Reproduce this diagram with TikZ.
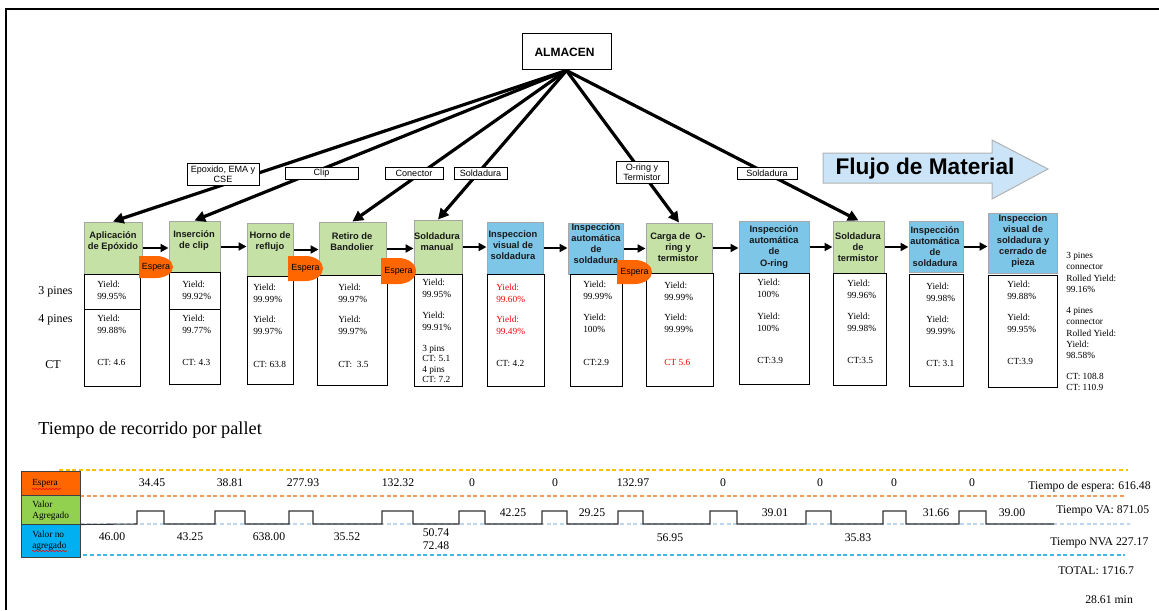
\documentclass[tikz,border=0pt]{standalone}
\usepackage{fontspec}
\setmainfont{Liberation Serif}
\setsansfont{Liberation Sans}
\usetikzlibrary{arrows.meta,fit,decorations.pathmorphing}
\definecolor{pgreen}{HTML}{C5E1A5}
\definecolor{pblue}{HTML}{7EC6E8}
\definecolor{espc}{HTML}{FF6600}
\definecolor{legG}{HTML}{92D050}
\definecolor{legB}{HTML}{00B0F0}
\definecolor{flowc}{HTML}{CCE4F7}
\definecolor{dyel}{HTML}{FFC000}
\definecolor{dora}{HTML}{F29A5C}
\definecolor{dpale}{HTML}{BDD7EE}
\definecolor{dcyan}{HTML}{3FB7E8}
\newcommand\mkbox[6]{\node[#6, fit={(#2,#3) (#4,#5)}, inner sep=0pt] (#1) {};}
\newcommand\mktxt[5][]{\node[dat,#1] (#2) at (#3,#4) {#5};}
\newcommand\mkhead[4]{\node[head] (#1) at (#2,#3) {#4};}
\newcommand\mklab[6]{\node[lab, fit={(#2,#3) (#4,#5)}, inner sep=0pt] (#1) {};
  \node[labtxt] (#1t) at (#1.center) {#6};}
\newcommand\mkesp[5]{%
  \fill[espc] (#2,#3) -- ({(#2+#4)/2},#3) arc[start angle=-90,end angle=90,x radius={(#4-#2)/2},y radius={(#5-#3)/2}] -- (#2,#5) -- cycle;
  \node[esptext] (#1) at ({(#2+#4)/2},{(#3+#5)/2}) {Espera};}
\newcommand\mknum[4]{\node[num] (#1) at (#2,#3) {#4};}
\begin{document}
\begin{tikzpicture}[x=0.75pt,y=-0.75pt,
  procg/.style={draw=black!35, fill=pgreen, line width=0.75pt},
  procb/.style={draw=black!35, fill=pblue, line width=0.75pt},
  dbox/.style={draw=black, line width=0.75pt},
  head/.style={font=\sffamily\bfseries\fontsize{7}{8.3}\selectfont, align=center, inner sep=0pt, text=black!90},
  dat/.style={font=\fontsize{7}{9}\selectfont, align=left, anchor=west, inner sep=0pt},
  side/.style={font=\fontsize{7}{8.3}\selectfont, align=left, anchor=west, inner sep=0pt},
  lab/.style={draw=black, fill=white, line width=0.6pt},
  labtxt/.style={font=\sffamily\fontsize{6.8}{7.6}\selectfont, align=center, inner sep=0pt},
  esptext/.style={font=\sffamily\fontsize{6.7}{8}\selectfont, inner sep=0pt},
  feed/.style={line width=2.4pt, -{Triangle[length=8pt,width=8pt]}},
  flowarr/.style={line width=1.5pt, -{Triangle[length=6pt,width=6pt]}},
  num/.style={font=\fontsize{8.8}{10}\selectfont, inner sep=0pt},
  tot/.style={font=\fontsize{8.8}{10}\selectfont, inner sep=0pt, anchor=west},
  legt/.style={font=\fontsize{7}{8.5}\selectfont, align=left, anchor=west, inner sep=0pt},
  dsh/.style={dash pattern=on 3pt off 2pt, line width=0.9pt}
]
\useasboundingbox (0,0) rectangle (1159,610);
\draw[line width=1.5pt] (6,610) -- (6,9) -- (1159,9);

% ALMACEN
\node[draw=black, fill=white, line width=0.75pt, fit={(522,34) (611,70)}, inner sep=0pt] (alm) {};
\node[font=\sffamily\bfseries\fontsize{9}{10}\selectfont, inner sep=0pt] (almt) at ([xshift=-1.5pt]alm.center) {ALMACEN};

% process boxes
\mkbox{p1}{84}{222}{142}{274}{procg}
\mkbox{p2}{169}{221}{220}{272}{procg}
\mkbox{p3}{247}{223}{293}{276}{procg}
\mkbox{p4}{319}{222}{386}{275}{procg}
\mkbox{p5}{414}{220}{462}{274}{procg}
\mkbox{p6}{487}{222}{543}{274}{procb}
\mkbox{p7}{568}{223}{623}{274}{procb}
\mkbox{p8}{646}{223}{712}{273}{procg}
\mkbox{p9}{739}{221}{809}{273}{procb}
\mkbox{p10}{833}{221}{884}{273}{procg}
\mkbox{p11}{909}{221}{963}{272}{procb}
\mkbox{p12}{988}{213}{1057}{273}{procb}

% data boxes
\mkbox{d1}{84}{274}{140}{386}{dbox}
\mkbox{d2}{169}{272}{220}{384}{dbox}
\mkbox{d3}{247}{276}{293}{384}{dbox}
\mkbox{d4}{317}{275}{387}{385}{dbox}
\mkbox{d5}{414}{274}{462}{386}{dbox}
\mkbox{d6}{487}{274}{544}{386}{dbox}
\mkbox{d7}{570}{274}{622}{386}{dbox}
\mkbox{d8}{646}{273}{713}{386}{dbox}
\mkbox{d9}{739}{273}{809}{384}{dbox}
\mkbox{d10}{833}{273}{886}{385}{dbox}
\mkbox{d11}{909}{274}{963}{386}{dbox}
\mkbox{d12}{988}{275}{1057}{387}{dbox}
\draw[line width=0.75pt] (d1.west |- 0,309) -- (d1.east |- 0,309);
\draw[line width=0.75pt] (d2.west |- 0,309) -- (d2.east |- 0,309);

% headings
\mkhead{t1}{113}{241.5}{Aplicación\\de Epóxido}
\mkhead{t2}{194}{240.5}{Inserción\\de clip}
\mkhead{t3}{270}{241.5}{Horno de\\reflujo}
\mkhead{t4}{352}{241.5}{Retiro de\\Bandolier}
\mkhead{t5}{437}{241.5}{Soldadura\\manual}
\mkhead{t6}{513}{245}{Inspeccion\\visual de\\soldadura}
\mkhead{t7}{596}{244}{Inspección\\automática\\de\\soldadura}
\mkhead{t8}{678}{247}{Carga de~~O-\\ring y\\termistor}
\mkhead{t9}{774}{247}{Inspección\\automática\\de\\O-ring}
\mkhead{t10}{858}{247}{Soldadura\\de\\termistor}
\mkhead{t11}{935}{247}{Inspección\\automática\\de\\soldadura}
\mkhead{t12}{1023}{241}{Inspeccion\\visual de\\soldadura y\\cerrado de\\pieza}

% feed lines from ALMACEN
\draw[feed] (alm.south) -- (p1.north);
\draw[feed] (alm.south) -- (p2.north);
\draw[feed] (alm.south) -- (p4.north);
\draw[feed] (alm.south) -- (p5.north);
\draw[feed] (alm.south) -- (p8.north);
\draw[feed] (alm.south) -- (p10.north);

% labels on feed lines
\mklab{l1}{187}{163}{259}{185}{Epoxido, EMA y\\CSE}
\mklab{l2}{285}{167}{358}{179}{Clip}
\mklab{l3}{385}{167}{443}{179}{Conector}
\mklab{l4}{454}{167}{507}{179}{Soldadura}
\mklab{l5}{616}{161}{668}{183}{O-ring y\\Termistor}
\mklab{l6}{737}{167}{797}{179}{Soldadura}

% process flow arrows
\draw[flowarr] (p1.east) -- (p1.east -| p2.west);
\draw[flowarr] (p2.east) -- (p2.east -| p3.west);
\draw[flowarr] (p3.east) -- (p3.east -| p4.west);
\draw[flowarr] (p4.east) -- (p4.east -| p5.west);
\draw[flowarr] (p5.east) -- (p5.east -| p6.west);
\draw[flowarr] (p6.east) -- (p6.east -| p7.west);
\draw[flowarr] (p7.east) -- (p7.east -| p8.west);
\draw[flowarr] (p8.east) -- (p8.east -| p9.west);
\draw[flowarr] (p9.east) -- (p9.east -| p10.west);
\draw[flowarr] (p10.east) -- (p10.east -| p11.west);
\draw[flowarr] (p11.east) -- (p11.east -| p12.west);

% Espera shapes
\mkesp{e1}{139}{256}{173}{278}
\mkesp{e2}{288}{256}{323}{281}
\mkesp{e3}{381}{258}{416}{284}
\mkesp{e4}{617}{260}{652}{284}

% Flujo de Material
\draw[fill=flowc, draw=black!30, line width=0.75pt] (823,153) -- (992,153) -- (992,140) -- (1048,169) -- (992,199) -- (992,183) -- (823,183) -- cycle;
\node[font=\sffamily\bfseries\fontsize{17}{20}\selectfont, inner sep=0pt] (flujo) at (925,169) {Flujo de Material};

% left labels
\node[font=\fontsize{9}{10}\selectfont, anchor=west, inner sep=0pt] (lp3) at (38,292) {3 pines};
\node[font=\fontsize{9}{10}\selectfont, anchor=west, inner sep=0pt] (lp4) at (38,320) {4 pines};
\node[font=\fontsize{9}{10}\selectfont, anchor=west, inner sep=0pt] (lct) at (45,365) {CT};

% data texts
\mktxt{a1}{97}{290}{Yield:\\99.95\%}
\mktxt{b1}{97}{324}{Yield:\\99.88\%}
\mktxt{c1}{97}{362}{CT: 4.6}
\mktxt{a2}{182}{290}{Yield:\\99.92\%}
\mktxt{b2}{182}{324}{Yield:\\99.77\%}
\mktxt{c2}{182}{362}{CT: 4.3}
\mktxt{a3}{253}{293}{Yield:\\99.99\%}
\mktxt{b3}{253}{325}{Yield:\\99.97\%}
\mktxt{c3}{253}{364}{CT: 63.8}
\mktxt{a4}{338}{293}{Yield:\\99.97\%}
\mktxt{b4}{338}{325}{Yield:\\99.97\%}
\mktxt{c4}{338}{364}{CT:~~3.5}
\mktxt{a5}{422}{288}{Yield:\\99.95\%}
\mktxt{b5}{422}{321}{Yield:\\99.91\%}
\node[side, font=\fontsize{7}{7.9}\selectfont] (c5) at (422,364) {3 pins\\CT: 5.1\\4 pins\\CT: 7.2};
\mktxt[text=red]{a6}{496}{293}{Yield:\\99.60\%}
\mktxt[text=red]{b6}{496}{325}{Yield:\\99.49\%}
\mktxt{c6}{496}{363}{CT: 4.2}
\mktxt{a7}{583}{290}{Yield:\\99.99\%}
\mktxt{b7}{583}{323}{Yield:\\100\%}
\mktxt{c7}{583}{362}{CT:2.9}
\mktxt{a8}{664}{291}{Yield:\\99.99\%}
\mktxt{b8}{664}{323}{Yield:\\99.99\%}
\mktxt[text=red]{c8}{664}{362}{CT 5.6}
\mktxt{a9}{757}{288}{Yield:\\100\%}
\mktxt{b9}{757}{322}{Yield:\\100\%}
\mktxt{c9}{757}{360}{CT:3.9}
\mktxt{a10}{847}{289}{Yield:\\99.96\%}
\mktxt{b10}{847}{322}{Yield:\\99.98\%}
\mktxt{c10}{847}{360}{CT:3.5}
\mktxt{a11}{926}{292}{Yield:\\99.98\%}
\mktxt{b11}{926}{325}{Yield:\\99.99\%}
\mktxt{c11}{926}{363}{CT: 3.1}
\mktxt{a12}{1007}{290}{Yield:\\99.88\%}
\mktxt{b12}{1007}{323}{Yield:\\99.95\%}
\mktxt{c12}{1007}{361}{CT:3.9}

% right side summary
\node[side] (r1) at (1066,272.5) {3 pines\\connector\\Rolled Yield:\\99.16\%};
\node[side] (r2) at (1066,333) {4 pines\\connector\\Rolled Yield:\\Yield:\\98.58\%};
\node[side] (r3) at (1066,382) {CT: 108.8\\CT: 110.9};

% bottom section
\node[font=\fontsize{13.7}{16}\selectfont, anchor=west, inner sep=0pt] (title) at (38,430) {Tiempo de recorrido por pallet};

\draw[dyel, dsh] (59,470) -- (1128,470);
\draw[dora, dsh] (80,496) -- (1125,496);
\draw[dpale, dsh] (80,524) -- (1130,524);
\draw[dcyan, dsh] (50,555) -- (1125,555);

\node[fill=espc, draw=black!75, line width=0.75pt, fit={(21,471) (80,495)}, inner sep=0pt] (lg1) {};
\node[fill=legG, draw=black!75, line width=0.75pt, fit={(21,495) (80,524)}, inner sep=0pt] (lg2) {};
\node[fill=legB, draw=black!75, line width=0.75pt, fit={(21,524) (80,557)}, inner sep=0pt] (lg3) {};
\node[legt] (lt1) at (32,483) {Espera};
\node[legt] (lt2) at (32,511) {Valor\\Agregado};
\node[legt] (lt3) at (32,541) {Valor no\\agregado};
\draw[red, line width=0.4pt, decorate, decoration={snake, amplitude=0.5pt, segment length=2.5pt}] (32,489) -- (61,489);
\draw[red, line width=0.4pt, decorate, decoration={snake, amplitude=0.5pt, segment length=2.5pt}] (32,551) -- (67,551);

% step line
\draw[black!80, line width=0.8pt] (lg2.south east) -- (137,524) -- (137,511) -- (164,511) -- (164,524)
  -- (215,524) -- (215,511) -- (245,511) -- (245,524)
  -- (289,524) -- (289,511) -- (313,511) -- (313,524)
  -- (382,524) -- (382,511) -- (413,511) -- (413,524)
  -- (459,524) -- (459,511) -- (485,511) -- (485,524)
  -- (542,524) -- (542,511) -- (567,511) -- (567,524)
  -- (618,524) -- (618,511) -- (643,511) -- (643,524)
  -- (710,524) -- (710,511) -- (737,511) -- (737,524)
  -- (806,524) -- (806,511) -- (831,511) -- (831,524)
  -- (883,524) -- (883,511) -- (906,511) -- (906,524)
  -- (959,524) -- (959,511) -- (986,511) -- (986,524)
  -- (1054,524);

% espera numbers
\mknum{w1}{152}{483}{34.45}
\mknum{w2}{230}{483}{38.81}
\mknum{w3}{303}{483}{277.93}
\mknum{w4}{398}{483}{132.32}
\mknum{w5}{472}{483}{0}
\mknum{w6}{555}{483}{0}
\mknum{w7}{633}{483}{132.97}
\mknum{w8}{723}{483}{0}
\mknum{w9}{820}{483}{0}
\mknum{w10}{894}{483}{0}
\mknum{w11}{972}{483}{0}
% VA numbers
\mknum{v1}{513}{513}{42.25}
\mknum{v2}{592}{513}{29.25}
\mknum{v3}{775}{513}{39.01}
\mknum{v4}{936}{513}{31.66}
\mknum{v5}{1012}{513}{39.00}
% NVA numbers
\mknum{n1}{112}{537}{46.00}
\mknum{n2}{190}{537}{43.25}
\mknum{n3}{269}{537}{638.00}
\mknum{n4}{347}{537}{35.52}
\mknum{n5}{436}{533}{50.74}
\mknum{n6}{436}{546}{72.48}
\mknum{n7}{670}{538}{56.95}
\mknum{n8}{858}{538}{35.83}

\node[tot] (s1) at (1028,487) {Tiempo de espera: 616.48};
\node[tot] (s2) at (1056,511) {Tiempo VA: 871.05};
\node[tot] (s3) at (1050,543) {Tiempo NVA 227.17};
\node[tot] (s4) at (1058,571) {TOTAL: 1716.7};
\node[tot] (s5) at (1085,600) {28.61 min};
\end{tikzpicture}
\end{document}
